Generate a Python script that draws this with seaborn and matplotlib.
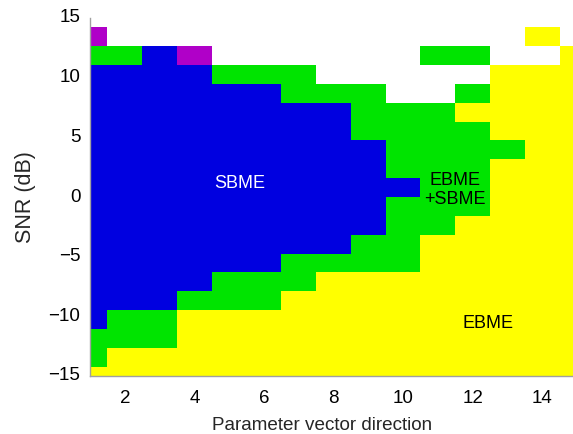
import numpy as np
import pandas as pd
import seaborn as sns
import matplotlib.pyplot as plt
from matplotlib.colors import ListedColormap

# Parameter vector directions (columns) and SNR grid (rows, bottom to top)
directions = list(range(1, 16))
snr_db = np.linspace(-15, 15, 20)

# Best estimator per cell, one string per SNR row (lowest SNR first)
# B = SBME, G = EBME+SBME, Y = EBME, M = other, W = no result
region_rows = [
    "YYYYYYYYYYYYYYY",
    "GYYYYYYYYYYYYYY",
    "GGGYYYYYYYYYYYY",
    "BGGYYYYYYYYYYYY",
    "BBBGGGYYYYYYYYY",
    "BBBBGGGYYYYYYYY",
    "BBBBBBGGGGYYYYY",
    "BBBBBBBBGGYYYYY",
    "BBBBBBBBBGGYYYY",
    "BBBBBBBBBGGGYYY",
    "BBBBBBBBBBGGYYY",
    "BBBBBBBBBGGGYYY",
    "BBBBBBBBBGGGGYY",
    "BBBBBBBBGGGGYYY",
    "BBBBBBBBGGGYYYY",
    "BBBBBBGGGWWGYYY",
    "BBBBGGGWWWWWYYY",
    "GGBMWWWWWWGGWWY",
    "MWWWWWWWWWWWWYW",
    "WWWWWWWWWWWWWWW",
]
codes = {"B": 0, "G": 1, "Y": 2, "M": 3, "W": np.nan}
region_colors = ["#0000e0", "#00e400", "#ffff00", "#b000c8"]

# region labels: (text, direction, snr, colour)
labels = [
    ("SBME", 5.3, 1.1, "white"),
    ("EBME\n+SBME", 11.5, 0.6, "black"),
    ("EBME", 12.45, -10.6, "black"),
]

grid = pd.DataFrame([[codes[c] for c in row] for row in region_rows],
                    index=snr_db, columns=directions)

sns.set_style("white")
plt.rcParams['font.family'] = ['Liberation Sans', 'DejaVu Sans']

fig = plt.figure(figsize=(5.73, 4.34), dpi=100)
ax = fig.add_axes([90 / 573, 1 - 376 / 434, 487 / 573, 358 / 434])

sns.heatmap(grid, ax=ax, cmap=ListedColormap(region_colors), vmin=-0.5, vmax=3.5,
            cbar=False, mask=grid.isna(), linewidths=0)


# heatmap cells sit at integer+0.5, map data values onto that
def xpos(d):
    return d - directions[0] + 0.5


def ypos(s):
    return (s - snr_db[0]) / (snr_db[1] - snr_db[0]) + 0.5


ax.set_xlim(xpos(1), xpos(15))
ax.set_ylim(ypos(-15), ypos(15))

xt = [2, 4, 6, 8, 10, 12, 14]
yt = [-15, -10, -5, 0, 5, 10, 15]
ax.set_xticks([xpos(v) for v in xt])
ax.set_xticklabels([str(v) for v in xt], rotation=0)
ax.set_yticks([ypos(v) for v in yt])
ax.set_yticklabels(["\u2212" + str(-v) if v < 0 else str(v) for v in yt], rotation=0)
ax.tick_params(length=0, labelsize=13.5, colors="black")
ax.tick_params(axis="x", pad=10)
ax.tick_params(axis="y", pad=7)

for text, d, s, col in labels:
    ax.text(xpos(d), ypos(s), text, color=col, fontsize=13, ha="center", va="center")

for side in ["top", "right"]:
    ax.spines[side].set_visible(False)
for side in ["left", "bottom"]:
    ax.spines[side].set_visible(True)
    ax.spines[side].set_color("#a0a0a0")
    ax.spines[side].set_linewidth(1)

ax.set_xlabel("Parameter vector direction", fontsize=13.6, labelpad=7)
ax.xaxis.label.set_x(0.476)
ax.set_ylabel("SNR (dB)", fontsize=15.5, labelpad=9)

fig.savefig("out.png", dpi=100)
